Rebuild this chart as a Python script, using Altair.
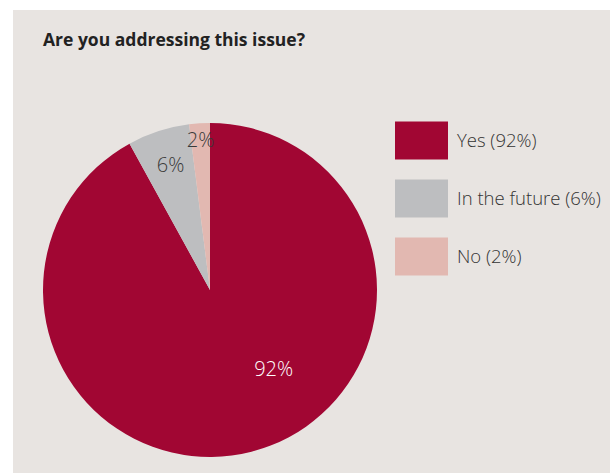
import altair as alt
import pandas as pd

categories = ["Yes (92%)", "In the future (6%)", "No (2%)"]
values = [92, 6, 2]
labels = ["92%", "6%", "2%"]
colors = ["#a10633", "#bdbec0", "#e2b8b1"]
title_text = "Are you addressing this issue?"

df = pd.DataFrame({
    "cat": categories,
    "value": values,
    "label": labels,
    "rank": list(range(len(categories))),
})

FONT = "Open Sans"
CX, CY, R = 197, 280, 167

base = alt.Chart(df).encode(
    theta=alt.Theta("value:Q", stack=True),
    order=alt.Order("rank:Q"),
)

pie = base.mark_arc(outerRadius=R, stroke=None).encode(
    x=alt.value(CX), y=alt.value(CY),
    color=alt.Color(
        "cat:N",
        scale=alt.Scale(domain=categories, range=colors),
        legend=alt.Legend(
            title=None, orient="none", legendX=382, legendY=104,
            symbolType="M-1,-0.717L1,-0.717L1,0.717L-1,0.717Z",
            symbolSize=2809, symbolStrokeWidth=0, symbolOpacity=1,
            labelFontSize=18.5, labelFont=FONT, labelFontWeight=300,
            labelColor="#333333", labelOffset=9, rowPadding=12, padding=0,
            labelLimit=300,
        ),
    ),
)

def lab(which, radius, color, dx=0, dy=0):
    return base.mark_text(radius=radius, fontSize=20, font=FONT, fontWeight=300,
                          color=color, dx=dx, dy=dy).encode(
        x=alt.value(CX), y=alt.value(CY),
        text=alt.condition(f"datum.cat == '{which}'", "label:N", alt.value("")),
    )

l92 = lab(categories[0], 103, "#ffffff", dx=38, dy=-20)
l6 = lab(categories[1], 131, "#3a3a3a", dx=1, dy=1)
l2 = lab(categories[2], 149, "#3a3a3a")

title = alt.Chart(pd.DataFrame({"t": [title_text]})).mark_text(
    align="left", baseline="alphabetic", fontSize=17.5, fontWeight="bold",
    font=FONT, color="#222222"
).encode(x=alt.value(30), y=alt.value(36), text="t:N")

chart = alt.layer(pie, l92, l6, l2, title).properties(
    width=597, height=463,
    padding={"left": 13, "top": 10, "right": 5, "bottom": 0},
    autosize=alt.AutoSizeParams(type="none"),
    background="#ffffff",
).configure_view(fill="#e8e4e1", strokeWidth=0)

chart.save("out.html", embed_options={"renderer": "svg", "actions": False})
